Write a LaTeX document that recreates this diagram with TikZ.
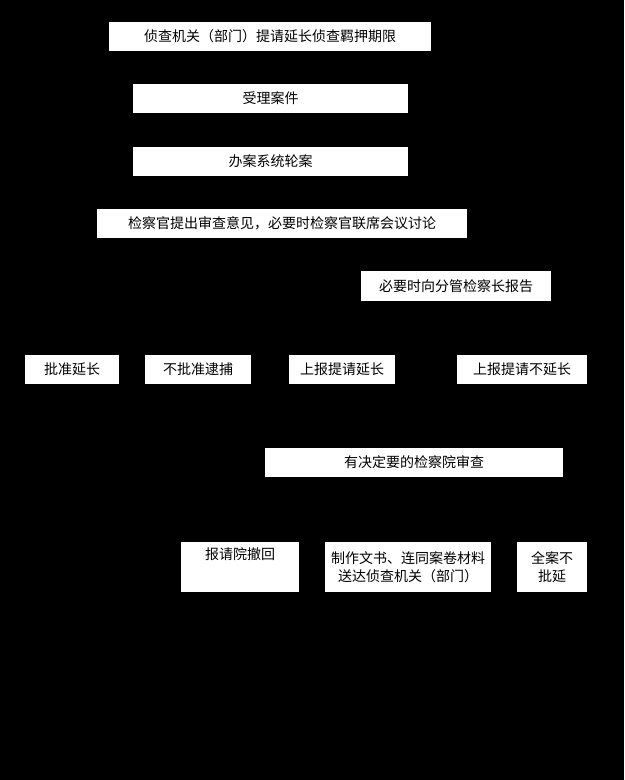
\documentclass[tikz,border=0pt]{standalone}
\usepackage{fontspec}
\setmainfont{Noto Sans CJK SC}
\begin{document}
\begin{tikzpicture}
          [x=0.75pt,y=-0.75pt,every node/.style={fill=white, inner sep=0pt, font=\fontsize{10.5}{14}\selectfont}]
        \fill[black] (0,0) rectangle (624,780);
        \useasboundingbox (0,0) rectangle (624,780);
        \node[minimum width=322*0.75pt, minimum height=29*0.75pt] (req) at (270,36.5) {侦查机关（部门）提请延长侦查羁押期限};
        \node[minimum width=275*0.75pt, minimum height=29*0.75pt] (acc) at (270.5,98.5) {受理案件};
        \node[minimum width=275*0.75pt, minimum height=29*0.75pt] (sys) at (270.5,161.5) {办案系统轮案};
        \node[minimum width=370*0.75pt, minimum height=29*0.75pt] (opn) at (282,223.5) {检察官提出审查意见，必要时检察官联席会议讨论};
        \node[minimum width=190*0.75pt, minimum height=30*0.75pt] (rep) at (456,286) {必要时向分管检察长报告};

        \node[minimum width=94*0.75pt, minimum height=29*0.75pt] (yes) at (72,369.5) {批准延长};
        \node[minimum width=106*0.75pt, minimum height=29*0.75pt] (no) at (198,369.5) {不批准逮捕};
        \node[minimum width=106*0.75pt, minimum height=29*0.75pt] (up) at (342,369.5) {上报提请延长};
        \node[minimum width=130*0.75pt, minimum height=29*0.75pt] (upno) at (522,369.5) {上报提请不延长};

        \node[minimum width=298*0.75pt, minimum height=29*0.75pt] (sup) at (414,462.5) {有决定要的检察院审查};

        \node[minimum width=118*0.75pt, minimum height=50*0.75pt, align=center, anchor=north, text depth=28*0.75pt, inner sep=3pt] (back) at (240,542) {报请院撤回};
        \node[minimum width=166*0.75pt, minimum height=50*0.75pt, align=center, anchor=north, inner sep=3pt] (doc) at (408,542) {制作文书、连同案卷材料\\送达侦查机关（部门）};
        \node[minimum width=70*0.75pt, minimum height=50*0.75pt, align=center, anchor=north, inner sep=3pt] (all) at (552,542) {全案不\\批延};
      \end{tikzpicture}
\end{document}
